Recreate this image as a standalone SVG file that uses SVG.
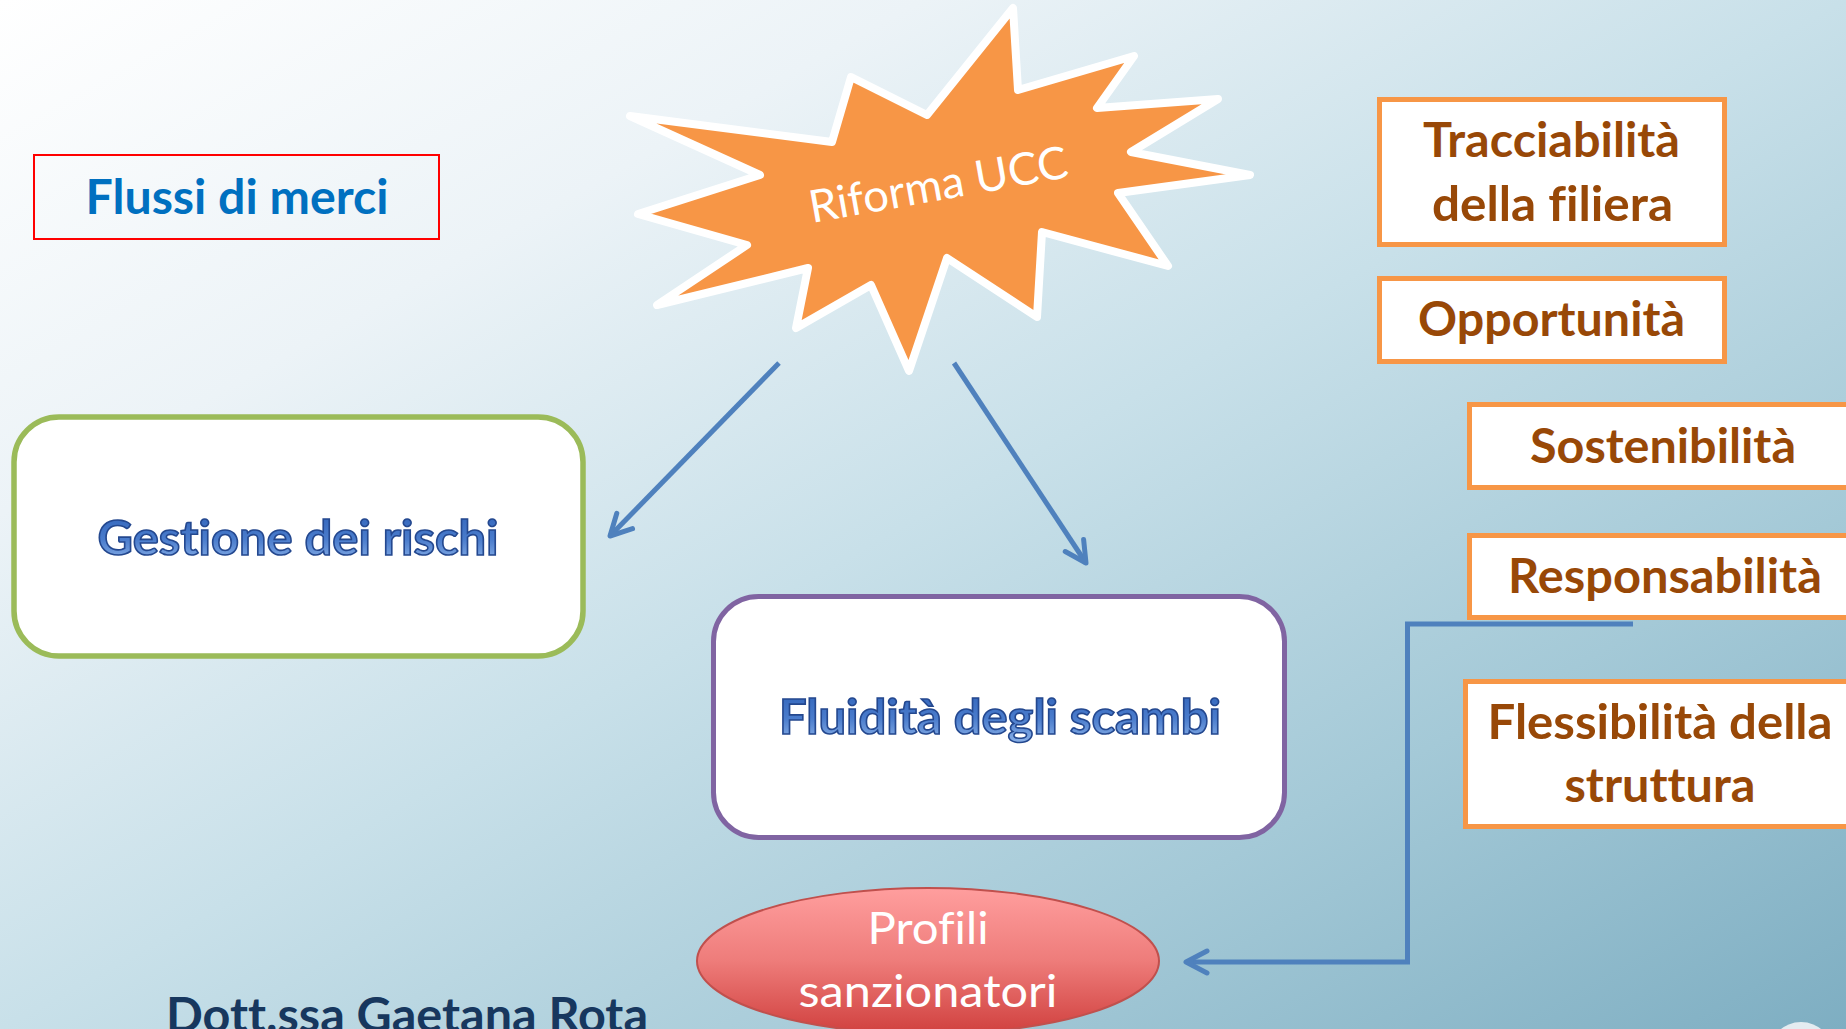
<svg xmlns="http://www.w3.org/2000/svg" width="1846" height="1029" viewBox="0 0 1846 1029">
<defs>
<linearGradient id="bg" x1="0" y1="0" x2="1" y2="1">
<stop offset="0" stop-color="#FFFFFF"/>
<stop offset="0.25" stop-color="#ECF3F7"/>
<stop offset="0.5" stop-color="#C8E0E9"/>
<stop offset="0.75" stop-color="#A4C9D7"/>
<stop offset="1" stop-color="#7EAEC2"/>
</linearGradient>
<linearGradient id="wordart" x1="0" y1="0" x2="0" y2="1">
<stop offset="0" stop-color="#2F62B8"/>
<stop offset="0.55" stop-color="#4A7CCC"/>
<stop offset="1" stop-color="#8FB5EA"/>
</linearGradient>
<linearGradient id="redfill" x1="0" y1="0" x2="0" y2="1">
<stop offset="0" stop-color="#FF9E9E"/>
<stop offset="0.5" stop-color="#EE7C7A"/>
<stop offset="1" stop-color="#D0403E"/>
</linearGradient>
<marker id="arr" markerUnits="userSpaceOnUse" markerWidth="40" markerHeight="40" viewBox="-30 -20 40 40" refX="0" refY="0" orient="auto">
<path d="M -21,-11 L 0,0 L -21,11" fill="none" stroke="#4F81BD" stroke-width="5" stroke-linecap="round" stroke-linejoin="round"/>
</marker>
<style>
text{font-variant-ligatures:none;font-feature-settings:"liga" 0,"dlig" 0}
.conn{fill:none;stroke:#4F81BD;stroke-width:5;stroke-linejoin:miter}
.obox{fill:#FFFFFF;stroke:#F79646;stroke-width:5}
.otxt{font-family:Lato,"Liberation Sans",sans-serif;font-weight:bold;font-size:47px;fill:#984807;text-anchor:middle}
.wa{font-family:Lato,"Liberation Sans",sans-serif;font-weight:bold;font-size:48px;fill:url(#wordart);stroke:#24488F;stroke-width:1.6;text-anchor:middle}
.wtxt{font-family:Lato,"Liberation Sans",sans-serif;font-size:45px;fill:#FFFFFF;text-anchor:middle}
</style>
</defs>
<rect x="0" y="0" width="1846" height="1029" fill="url(#bg)"/>
<circle cx="1801" cy="1054" r="32" fill="#EEF3F6" opacity="0.9"/>

<g id="connectors">
<line class="conn" x1="779" y1="363" x2="610" y2="536" marker-end="url(#arr)"/>
<line class="conn" x1="954" y1="363" x2="1086" y2="563" marker-end="url(#arr)"/>
<polyline class="conn" points="1633,624 1407.5,624 1407.5,962 1186,962" marker-end="url(#arr)"/>
</g>

<g id="riforma-ucc">
<polygon points="1013,8 1018,90 1134,56 1097,108 1218,99 1131,152 1250,175 1118,193 1168,266 1042,232 1037,317 947,258 909,371 871,285 796,328 808,268 657,305 747,245 638,214 760,175 630,116 832,142 851,77 927,115" fill="#F79646" stroke="#FFFFFF" stroke-width="8" stroke-linejoin="round"/>
<text class="wtxt" x="941" y="200" font-size="45" textLength="262" lengthAdjust="spacingAndGlyphs" transform="rotate(-10.1 941 200)">Riforma UCC</text>
</g>

<g id="flussi-di-merci">
<rect x="34" y="155" width="405" height="84" fill="none" stroke="#FF0000" stroke-width="2"/>
<text x="237" y="214" font-family="Lato, 'Liberation Sans', sans-serif" font-weight="bold" font-size="47" fill="#0070C0" text-anchor="middle" textLength="303" lengthAdjust="spacingAndGlyphs">Flussi di merci</text>
</g>

<g id="gestione-dei-rischi">
<rect x="14" y="417" width="569" height="239" rx="45" ry="45" fill="#FFFFFF" stroke="#9BBB59" stroke-width="5.5"/>
<text class="wa" x="298" y="555" textLength="401" lengthAdjust="spacingAndGlyphs">Gestione dei rischi</text>
</g>

<g id="fluidita-degli-scambi">
<rect x="713.5" y="596.5" width="571" height="241" rx="45" ry="45" fill="#FFFFFF" stroke="#8064A2" stroke-width="5"/>
<text class="wa" x="1000" y="734" textLength="442" lengthAdjust="spacingAndGlyphs">Fluidità degli scambi</text>
</g>

<g id="tracciabilita">
<rect class="obox" x="1379.5" y="99.5" width="345" height="145"/>
<text class="otxt" x="1551.5" y="157" textLength="257" lengthAdjust="spacingAndGlyphs">Tracciabilità</text>
<text class="otxt" x="1552.5" y="221" textLength="241" lengthAdjust="spacingAndGlyphs">della filiera</text>
</g>

<g id="opportunita">
<rect class="obox" x="1379.5" y="278.5" width="345" height="83"/>
<text class="otxt" x="1551.5" y="336" textLength="267" lengthAdjust="spacingAndGlyphs">Opportunità</text>
</g>

<g id="sostenibilita">
<rect class="obox" x="1469.5" y="404.5" width="400" height="83"/>
<text class="otxt" x="1663" y="463" textLength="266" lengthAdjust="spacingAndGlyphs">Sostenibilità</text>
</g>

<g id="responsabilita">
<rect class="obox" x="1469.5" y="535.5" width="400" height="82"/>
<text class="otxt" x="1665" y="593" textLength="314" lengthAdjust="spacingAndGlyphs">Responsabilità</text>
</g>

<g id="flessibilita">
<rect class="obox" x="1465.5" y="681.5" width="400" height="145"/>
<text class="otxt" x="1660" y="739" textLength="345" lengthAdjust="spacingAndGlyphs">Flessibilità della</text>
<text class="otxt" x="1660" y="802" textLength="191" lengthAdjust="spacingAndGlyphs">struttura</text>
</g>

<g id="profili-sanzionatori">
<ellipse cx="928" cy="961" rx="231" ry="73" fill="url(#redfill)" stroke="#C0504D" stroke-width="2"/>
<text class="wtxt" x="928" y="944" textLength="121" lengthAdjust="spacingAndGlyphs">Profili</text>
<text class="wtxt" x="928" y="1007" textLength="259" lengthAdjust="spacingAndGlyphs">sanzionatori</text>
</g>

<g id="autore">
<text x="166" y="1032" font-family="Lato, 'Liberation Sans', sans-serif" font-weight="bold" font-size="47" fill="#17375E" textLength="482" lengthAdjust="spacingAndGlyphs">Dott.ssa Gaetana Rota</text>
</g>
</svg>
